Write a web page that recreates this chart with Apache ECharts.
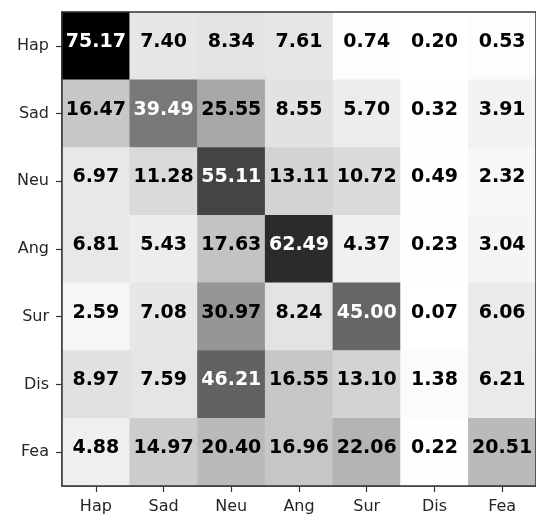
<!DOCTYPE html>
<html><head><meta charset="utf-8">
<script src="https://cdn.jsdelivr.net/npm/echarts@6/dist/echarts.min.js"></script>
<style>html,body{margin:0;padding:0;background:#fff}#c{width:536px;height:518px}</style>
</head><body><div id="c"></div>
<script>
const categories = ['Hap', 'Sad', 'Neu', 'Ang', 'Sur', 'Dis', 'Fea'];
const rowHap = [75.17, 7.40, 8.34, 7.61, 0.74, 0.20, 0.53];
const rowSad = [16.47, 39.49, 25.55, 8.55, 5.70, 0.32, 3.91];
const rowNeu = [6.97, 11.28, 55.11, 13.11, 10.72, 0.49, 2.32];
const rowAng = [6.81, 5.43, 17.63, 62.49, 4.37, 0.23, 3.04];
const rowSur = [2.59, 7.08, 30.97, 8.24, 45.00, 0.07, 6.06];
const rowDis = [8.97, 7.59, 46.21, 16.55, 13.10, 1.38, 6.21];
const rowFea = [4.88, 14.97, 20.40, 16.96, 22.06, 0.22, 20.51];

const rows = [rowHap, rowSad, rowNeu, rowAng, rowSur, rowDis, rowFea];
let vmax = -Infinity, vmin = Infinity;
rows.forEach(r => r.forEach(v => { vmax = Math.max(vmax, v); vmin = Math.min(vmin, v); }));
const thresh = (vmax + vmin) / 2;
const data = [];
rows.forEach((r, yi) => r.forEach((v, xi) => {
  data.push({ value: [xi, yi, v], label: { color: v > thresh ? '#ffffff' : '#000000' } });
}));

const chart = echarts.init(document.getElementById('c'), null, { renderer: 'canvas' });
const axisCommon = {
  type: 'category',
  data: categories,
  axisLine: { show: true, lineStyle: { color: '#333', width: 1.5 } },
  axisTick: { show: true, alignWithLabel: true, length: 6, lineStyle: { color: '#333', width: 1.2 } },
  splitArea: { show: false },
  splitLine: { show: false },
  axisLabel: { fontFamily: 'DejaVu Sans', fontSize: 16, color: '#262626' }
};
chart.setOption({
  animation: false,
  grid: { left: 62, top: 12, width: 477, height: 474, show: true, z: 10, backgroundColor: 'transparent', borderColor: '#333', borderWidth: 1.5 },
  xAxis: Object.assign({}, axisCommon, { position: 'bottom', axisLabel: Object.assign({}, axisCommon.axisLabel, { margin: 13 }) }),
  yAxis: Object.assign({}, axisCommon, { inverse: true, axisLabel: Object.assign({}, axisCommon.axisLabel, { margin: 13 }) }),
  visualMap: { show: false, min: vmin, max: vmax, dimension: 2, inRange: { color: ['#ffffff', '#000000'] } },
  series: [{
    type: 'heatmap',
    data: data,
    label: { show: true, fontFamily: 'DejaVu Sans', fontWeight: 'bold', fontSize: 19, offset: [0, -4], formatter: p => p.value[2].toFixed(2) },
    itemStyle: { borderWidth: 0 },
    emphasis: { disabled: true }
  }]
});
</script></body></html>
